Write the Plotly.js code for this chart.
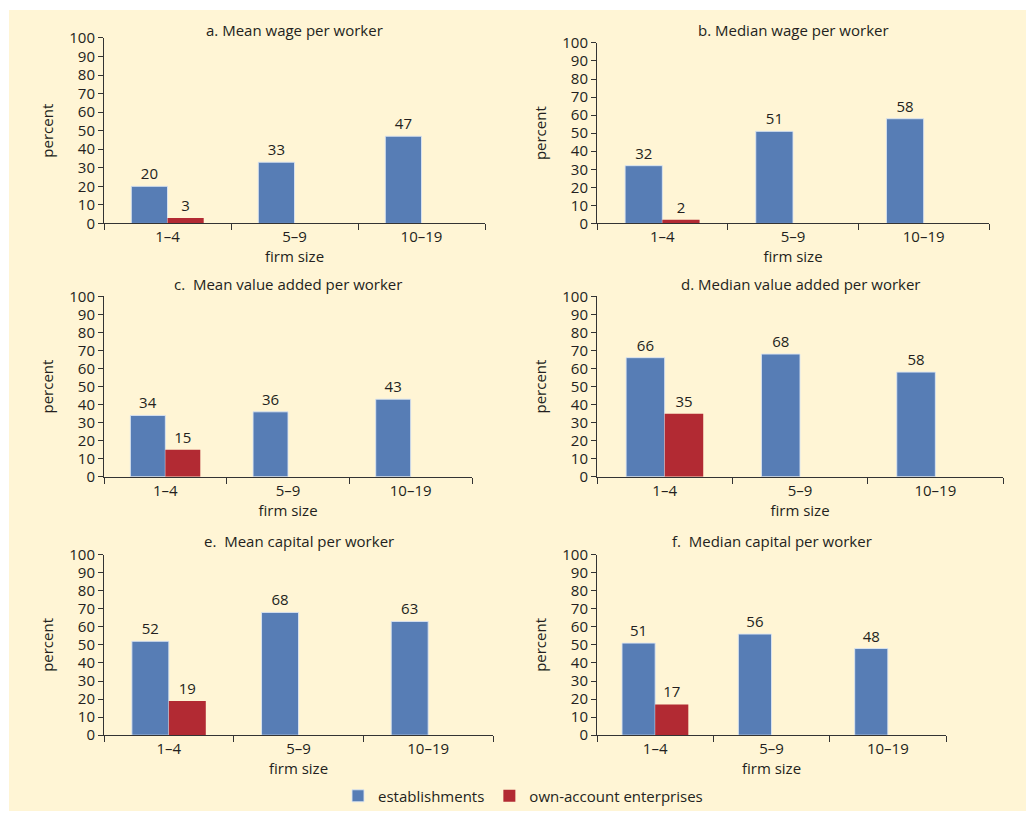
<!DOCTYPE html>
<html>
<head>
<meta charset="utf-8">
<script src="https://cdn.plot.ly/plotly-3.0.1.min.js"></script>
<style>html,body{margin:0;padding:0;background:#fff;}#chart{width:1026px;height:813px;}</style>
</head>
<body>
<div id="chart"></div>
<script>
// Data
var categories = ["1–4", "5–9", "10–19"];
var panelTitles = [
  "a. Mean wage per worker",
  "b. Median wage per worker",
  "c.  Mean value added per worker",
  "d. Median value added per worker",
  "e.  Mean capital per worker",
  "f.  Median capital per worker"
];
var establishments_a = [20, 33, 47];
var ownAccount_a     = [3, null, null];
var establishments_b = [32, 51, 58];
var ownAccount_b     = [2, null, null];
var establishments_c = [34, 36, 43];
var ownAccount_c     = [15, null, null];
var establishments_d = [66, 68, 58];
var ownAccount_d     = [35, null, null];
var establishments_e = [52, 68, 63];
var ownAccount_e     = [19, null, null];
var establishments_f = [51, 56, 48];
var ownAccount_f     = [17, null, null];
var yTicks = [0, 10, 20, 30, 40, 50, 60, 70, 80, 90, 100];
var seriesNames = ["establishments", "own-account enterprises"];

var estAll = [establishments_a, establishments_b, establishments_c, establishments_d, establishments_e, establishments_f];
var ownAll = [ownAccount_a, ownAccount_b, ownAccount_c, ownAccount_d, ownAccount_e, ownAccount_f];

// Layout geometry (pixels)
var W = 1026, H = 813;
var FONT = "Open Sans, Noto Sans, sans-serif";
var TXT = "#231f20";
var BLUE = "#577db5";
var RED = "#b22a33";
var BG = "#fff5d5";
var boxes = [
  {x0: 104, x1: 485, yTop: 38, yBot: 224, ty: 30},
  {x0: 597, x1: 989, yTop: 43, yBot: 224, ty: 30},
  {x0: 104, x1: 472, yTop: 297, yBot: 478, ty: 285},
  {x0: 597, x1: 1003, yTop: 297, yBot: 478, ty: 285},
  {x0: 104, x1: 493, yTop: 556, yBot: 737, ty: 542},
  {x0: 597, x1: 946, yTop: 556, yBot: 737, ty: 542}
];

function lbl(arr) { return arr.map(function (v) { return v === null ? "" : String(v); }); }

var data = [];
var layout = {
  width: W, height: H,
  margin: {l: 0, r: 0, t: 0, b: 0},
  paper_bgcolor: "#ffffff",
  plot_bgcolor: "rgba(0,0,0,0)",
  barmode: "group",
  bargap: 0.43,
  bargroupgap: 0,
  font: {family: FONT, size: 15, color: TXT},
  showlegend: true,
  legend: {orientation: "h", x: 0.5 + 10 / W, xanchor: "center", y: 1 - 798 / H, yanchor: "middle",
           font: {family: FONT, size: 15, color: TXT}, bgcolor: "rgba(0,0,0,0)", traceorder: "normal",
           itemwidth: 30},
  shapes: [{type: "rect", xref: "paper", yref: "paper", x0: 9 / W, x1: 1, y0: 0, y1: 1 - 10 / H,
            fillcolor: BG, line: {width: 0}, layer: "below"}],
  annotations: []
};

boxes.forEach(function (b, i) {
  var n = i + 1;
  var xa = "x" + (n === 1 ? "" : n), ya = "y" + (n === 1 ? "" : n);
  var xk = "xaxis" + (n === 1 ? "" : n), yk = "yaxis" + (n === 1 ? "" : n);
  data.push({
    type: "bar", name: seriesNames[0], x: categories, y: estAll[i], xaxis: xa, yaxis: ya,
    marker: {color: BLUE, line: {color: "rgba(220,230,242,0.9)", width: 1}},
    text: lbl(estAll[i]), textposition: "outside", cliponaxis: false, constraintext: "none",
    textfont: {family: FONT, size: 15, color: TXT},
    showlegend: i === 0, legendgroup: "est", hoverinfo: "skip"
  });
  data.push({
    type: "bar", name: seriesNames[1], x: categories, y: ownAll[i], xaxis: xa, yaxis: ya,
    marker: {color: RED, line: {width: 0}},
    text: lbl(ownAll[i]), textposition: "outside", cliponaxis: false, constraintext: "none",
    textfont: {family: FONT, size: 15, color: TXT},
    showlegend: i === 0, legendgroup: "own", hoverinfo: "skip"
  });
  layout[xk] = {
    domain: [b.x0 / W, b.x1 / W], anchor: ya,
    type: "category", range: [-0.5, 2.5],
    showline: true, linecolor: "#333", linewidth: 1,
    ticks: "outside", tickson: "boundaries", ticklen: 6, tickcolor: "#333",
    showgrid: false, zeroline: false, fixedrange: true,
    tickfont: {family: FONT, size: 15, color: TXT},
    title: {text: "firm size", font: {family: FONT, size: 15, color: TXT}, standoff: 0}
  };
  layout[yk] = {
    domain: [1 - b.yBot / H, 1 - b.yTop / H], anchor: xa,
    range: [0, 100], tickmode: "array", tickvals: yTicks, ticktext: yTicks.map(String),
    showline: true, linecolor: "#333", linewidth: 1,
    ticks: "outside", ticklen: 5, tickcolor: "#333",
    showgrid: false, zeroline: false, fixedrange: true,
    tickfont: {family: FONT, size: 15, color: TXT},
    title: {text: "percent", font: {family: FONT, size: 15, color: TXT}, standoff: 12}
  };
  layout.annotations.push({
    xref: "paper", yref: "paper", x: (b.x0 + b.x1) / 2 / W, y: 1 - b.ty / H,
    xanchor: "center", yanchor: "middle", showarrow: false, text: panelTitles[i],
    font: {family: FONT, size: 15, color: TXT}
  });
});

Plotly.newPlot("chart", data, layout, {displayModeBar: false, staticPlot: true});
</script>
</body>
</html>
